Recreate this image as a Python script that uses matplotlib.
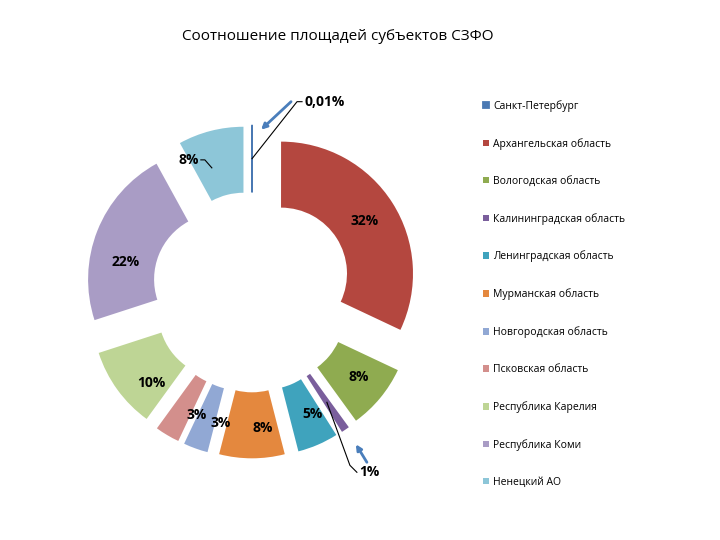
import numpy as np
import matplotlib
matplotlib.use("Agg")
import matplotlib.pyplot as plt

plt.rcParams['font.family'] = ['Open Sans', 'DejaVu Sans']

# data
regions = ['Санкт-Петербург', 'Архангельская область', 'Вологодская область',
           'Калининградская область', 'Ленинградская область', 'Мурманская область',
           'Новгородская область', 'Псковская область', 'Республика Карелия',
           'Республика Коми', 'Ненецкий АО']
shares = [0.01, 32, 8, 1, 5, 8, 3, 3, 10, 22, 8]
colors = ['#4A79B3', '#B4473F', '#8FAB50', '#7A5E9C', '#3FA3BD', '#E4883E',
          '#91A8D4', '#D38F8C', '#BED595', '#A99CC5', '#8DC6D8']
title = 'Соотношение площадей субъектов СЗФО'

PX = 132.0  # pixels per data unit (= outer radius)

fig = plt.figure(figsize=(7.2, 5.4), dpi=100)
ax = fig.add_axes([0, 0, 1, 1])

wedges, _ = ax.pie(shares, colors=colors, startangle=90, counterclock=False,
                   explode=[0.26] * len(shares), radius=1.0,
                   wedgeprops=dict(width=0.5, edgecolor='none'))
wedges[0].set_edgecolor(colors[0])
wedges[0].set_linewidth(1.3)

ax.set_xlim(-252 / PX, 468 / PX)
ax.set_ylim(-248 / PX, 292 / PX)
ax.axis('off')


def anchor(w):
    mid = np.deg2rad((w.theta1 + w.theta2) / 2)
    rr = w.r - w.width / 2
    return w.center[0] + rr * np.cos(mid), w.center[1] + rr * np.sin(mid)


def off(p, dx, dy):
    # offset in pixels (screen, y down)
    return p[0] + dx / PX, p[1] - dy / PX


labels = [('%g%%' % v).replace('.', ',') for v in shares]
outside = {0: [(45, -57), (50, -57)], 3: [(23, 63), (30, 70)]}
# small label nudges (pixels), like the excel placement
nudge = {2: (4, 0), 4: (8, 0), 5: (11, 3), 6: (14, 6), 7: (13, 8),
         8: (7, 13), 9: (-2, 19)}

for i, w in enumerate(wedges):
    a = anchor(w)
    if i in outside:
        p1 = off(a, *outside[i][0])
        p2 = off(a, *outside[i][1])
        ax.plot([a[0], p1[0], p2[0]], [a[1], p1[1], p2[1]], color='black', lw=0.8)
        ax.text(p2[0] + 2 / PX, p2[1], labels[i], ha='left', va='center',
                fontsize=10, fontweight='bold')
    elif i == 10:
        p1 = off(a, -7, 5)
        p2 = off(a, -14, -3)
        p3 = off(a, -18, -3)
        ax.plot([p1[0], p2[0], p3[0]], [p1[1], p2[1], p3[1]], color='black', lw=0.8)
        ax.text(p3[0] - 2 / PX, p3[1], labels[i], ha='right', va='center',
                fontsize=10, fontweight='bold')
    else:
        p = off(a, *nudge.get(i, (0, 0)))
        ax.text(p[0], p[1], labels[i], ha='center', va='center',
                fontsize=10, fontweight='bold')

# hand-drawn blue arrows
arrow_kw = dict(arrowstyle='-|>', color='#4A7EBB', lw=2, mutation_scale=8,
                shrinkA=0, shrinkB=0)
a0 = anchor(wedges[0])
ax.annotate('', xy=off(a0, 9, -29), xytext=off(a0, 39, -57), arrowprops=arrow_kw)
a3 = anchor(wedges[3])
ax.annotate('', xy=off(a3, 29, 42), xytext=off(a3, 40, 60), arrowprops=arrow_kw)

fig.text(338 / 720, 1 - 36 / 540, title, ha='center', va='center', fontsize=11)

fig.legend(wedges, regions, loc='upper left', bbox_to_anchor=(483 / 720, 1 - 100 / 540),
           frameon=False, fontsize=7.5, handlelength=0.6, handleheight=0.6,
           handletextpad=0.4, labelspacing=2.5, borderpad=0, borderaxespad=0)

fig.savefig('out.png', dpi=100)
